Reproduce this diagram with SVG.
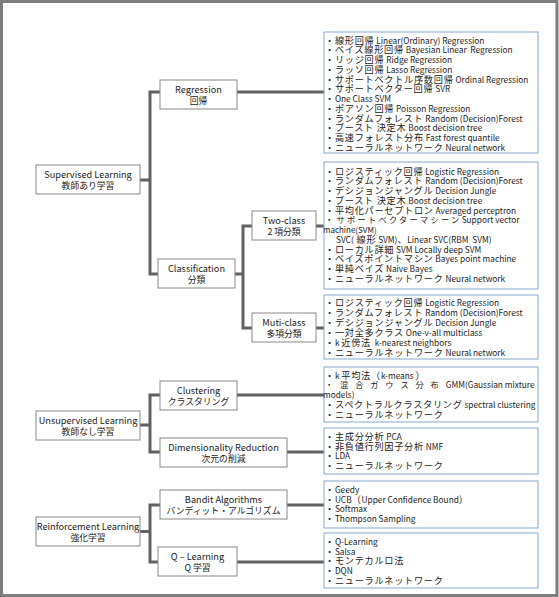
<svg xmlns="http://www.w3.org/2000/svg" width="559" height="597" viewBox="0 0 559 597">
<style>
text{font-family:"Noto Sans CJK JP","Noto Sans",sans-serif;fill:#222}
.n rect{fill:#fff;stroke:#8a8a8a;stroke-width:1}
.n text{font-size:9.2px;text-anchor:middle}
.n text.jp{font-size:8.8px}
.l rect{fill:#fff;stroke:#86aacb;stroke-width:1}
.l text{font-size:8.3px}
.j{font-size:9.2px;letter-spacing:0.7px}
.s{font-size:8.6px}
.s .j{font-size:8.2px;letter-spacing:2.3px}
.s .w{letter-spacing:6.9px}
.c path{fill:none;stroke:#616161;stroke-width:3}
</style>
<rect x="0" y="0" width="559" height="597" fill="#fff"/>
<rect x="1.5" y="1.5" width="555.5" height="594" fill="none" stroke="#7d7d7d" stroke-width="3"/>
<g class="c" id="connectors">
<path d="M140 180H150M160 92H150V274H158"/>
<path d="M237 92H324"/>
<path d="M235 274H243M252 226H243V328H252"/>
<path d="M316 226H324M316 328H324"/>
<path d="M140 425H150M160 395H150V452H160"/>
<path d="M237 395H324M287 452H324"/>
<path d="M140 531.5H150M160 505H150V562H158"/>
<path d="M287 505H324M237 562H324"/>
</g>
<g class="n" id="supervised"><rect x="36" y="165" width="104" height="29"/><text x="88" y="178">Supervised Learning</text><text class="jp" x="88" y="188.6">教師あり学習</text></g>
<g class="n" id="regression"><rect x="160" y="80" width="77" height="29"/><text x="198.5" y="93">Regression</text><text class="jp" x="198.5" y="103.6">回帰</text></g>
<g class="n" id="classification"><rect x="158" y="259" width="77" height="29"/><text x="196.5" y="272">Classification</text><text class="jp" x="196.5" y="282.6">分類</text></g>
<g class="n" id="twoclass"><rect x="252" y="211" width="64" height="29"/><text x="284" y="224">Two-class</text><text class="jp" x="284" y="234.6">2 項分類</text></g>
<g class="n" id="multiclass"><rect x="252" y="313" width="64" height="29"/><text x="284" y="326">Muti-class</text><text class="jp" x="284" y="336.6">多項分類</text></g>
<g class="n" id="unsupervised"><rect x="36" y="411" width="104" height="29"/><text x="88" y="424">Unsupervised Learning</text><text class="jp" x="88" y="434.6">教師なし学習</text></g>
<g class="n" id="clustering"><rect x="160" y="381" width="77" height="29"/><text x="198.5" y="394">Clustering</text><text class="jp" x="198.5" y="404.6">クラスタリング</text></g>
<g class="n" id="dimred"><rect x="160" y="438" width="127" height="29"/><text x="223.5" y="451">Dimensionality Reduction</text><text class="jp" x="223.5" y="461.6">次元の削減</text></g>
<g class="n" id="reinforcement"><rect x="36" y="517" width="104" height="29"/><text x="88" y="530">Reinforcement Learning</text><text class="jp" x="88" y="540.6">強化学習</text></g>
<g class="n" id="bandit"><rect x="160" y="490" width="127" height="29"/><text x="223.5" y="503">Bandit Algorithms</text><text class="jp" x="223.5" y="513.6">バンディット・アルゴリズム</text></g>
<g class="n" id="qlearning"><rect x="158" y="547" width="79" height="29"/><text x="197.5" y="560">Q – Learning</text><text class="jp" x="197.5" y="570.6">Q 学習</text></g>

<g class="l" id="list-regression"><rect x="324" y="32" width="214" height="121"/>
<text x="325" y="43.7"><tspan class="j">・線形回帰</tspan> Linear(Ordinary) Regression</text>
<text x="325" y="53.45"><tspan class="j">・ベイズ線形回帰</tspan> Bayesian Linear&#160; Regression</text>
<text x="325" y="63.2"><tspan class="j">・リッジ回帰</tspan> Ridge Regression</text>
<text x="325" y="72.95"><tspan class="j">・ラッソ回帰</tspan> Lasso Regression</text>
<text x="325" y="82.7"><tspan class="j">・サポートベクトル序数回帰</tspan> Ordinal Regression</text>
<text x="325" y="92.45"><tspan class="j">・サポートベクター回帰</tspan> SVR</text>
<text x="325" y="102.2"><tspan class="j">・</tspan>One Class SVM</text>
<text x="325" y="111.95"><tspan class="j">・ポアソン回帰</tspan> Poisson Regression</text>
<text x="325" y="121.7"><tspan class="j">・ランダムフォレスト</tspan> Random (Decision)Forest</text>
<text x="325" y="131.45"><tspan class="j">・ブースト 決定木</tspan> Boost decision tree</text>
<text x="325" y="141.2"><tspan class="j">・高速フォレスト分布</tspan> Fast forest quantile</text>
<text x="325" y="150.95"><tspan class="j">・ニューラルネットワーク</tspan> Neural network</text>
</g>
<g class="l" id="list-twoclass"><rect x="324" y="162" width="214" height="127"/>
<text x="325" y="174.5"><tspan class="j">・ロジスティック回帰</tspan> Logistic Regression</text>
<text x="325" y="184.25"><tspan class="j">・ランダムフォレスト</tspan> Random (Decision)Forest</text>
<text x="325" y="194"><tspan class="j">・デシジョンジャングル</tspan> Decision Jungle</text>
<text x="325" y="203.75"><tspan class="j">・ブースト 決定木</tspan> Boost decision tree</text>
<text x="325" y="213.5"><tspan class="j">・平均化パーセプトロン</tspan> Averaged perceptron</text>
<text class="s" x="325" y="223.25"><tspan class="j">・</tspan><tspan class="j" dx="1">サポートベクターマシーン</tspan>Support vector</text>
<text class="s" x="323" y="233" style="font-size:8px">machine(SVM)</text>
<text x="336" y="242.75">SVC(<tspan class="j"> 線形</tspan> SVM)<tspan class="j">、</tspan>Linear SVC(RBM&#160; SVM)</text>
<text x="325" y="252.5"><tspan class="j">・ローカル詳細</tspan> SVM Locally deep SVM</text>
<text x="325" y="262.25"><tspan class="j">・ベイズポイントマシン</tspan> Bayes point machine</text>
<text x="325" y="272"><tspan class="j">・単純ベイズ</tspan> Naive Bayes</text>
<text x="325" y="281.75"><tspan class="j">・ニューラルネットワーク</tspan> Neural network</text>
</g>
<g class="l" id="list-multiclass"><rect x="324" y="295" width="214" height="64"/>
<text x="325" y="305.5"><tspan class="j">・ロジスティック回帰</tspan> Logistic Regression</text>
<text x="325" y="315.5"><tspan class="j">・ランダムフォレスト</tspan> Random (Decision)Forest</text>
<text x="325" y="325.5"><tspan class="j">・デシジョンジャングル</tspan> Decision Jungle</text>
<text x="325" y="335.5"><tspan class="j">・一対全多クラス</tspan> One-v-all multiclass</text>
<text x="325" y="345.5"><tspan class="j">・</tspan>k <tspan class="j">近傍法</tspan>&#160; k-nearest neighbors</text>
<text x="325" y="355.5"><tspan class="j">・ニューラルネットワーク</tspan> Neural network</text>
</g>
<g class="l" id="list-clustering"><rect x="324" y="367" width="214" height="55"/>
<text x="325" y="378.5"><tspan class="j">・</tspan>k <tspan class="j">平均法（</tspan>k-means <tspan class="j">）</tspan></text>
<text class="s" x="325" y="388.25" style="font-size:8.3px"><tspan class="j w">・混合ガウス分布</tspan>GMM(Gaussian mixture</text>
<text class="s" x="323" y="398" style="font-size:8.3px">models)</text>
<text x="325" y="407.75"><tspan class="j">・スペクトラルクラスタリング</tspan> spectral clustering</text>
<text x="325" y="417.5"><tspan class="j">・ニューラルネットワーク</tspan></text>
</g>
<g class="l" id="list-dimred"><rect x="324" y="428" width="214" height="46"/>
<text x="325" y="440"><tspan class="j">・主成分分析</tspan> PCA</text>
<text x="325" y="449.6"><tspan class="j">・非負値行列因子分析</tspan> NMF</text>
<text x="325" y="459.2"><tspan class="j">・</tspan>LDA</text>
<text x="325" y="468.8"><tspan class="j">・ニューラルネットワーク</tspan></text>
</g>
<g class="l" id="list-bandit"><rect x="324" y="481" width="214" height="47"/>
<text x="325" y="493"><tspan class="j">・</tspan>Geedy</text>
<text x="325" y="502.7"><tspan class="j">・</tspan>UCB<tspan class="j">（</tspan>Upper Confidence Bound<tspan class="j">）</tspan></text>
<text x="325" y="512.4"><tspan class="j">・</tspan>Softmax</text>
<text x="325" y="522.1"><tspan class="j">・</tspan>Thompson Sampling</text>
</g>
<g class="l" id="list-qlearning"><rect x="324" y="533" width="214" height="55"/>
<text x="325" y="545"><tspan class="j">・</tspan>Q-Learning</text>
<text x="325" y="554.7"><tspan class="j">・</tspan>Salsa</text>
<text x="325" y="564.4"><tspan class="j">・モンテカルロ法</tspan></text>
<text x="325" y="574.1"><tspan class="j">・</tspan>DQN</text>
<text x="325" y="583.8"><tspan class="j">・ニューラルネットワーク</tspan></text>
</g>
</svg>
